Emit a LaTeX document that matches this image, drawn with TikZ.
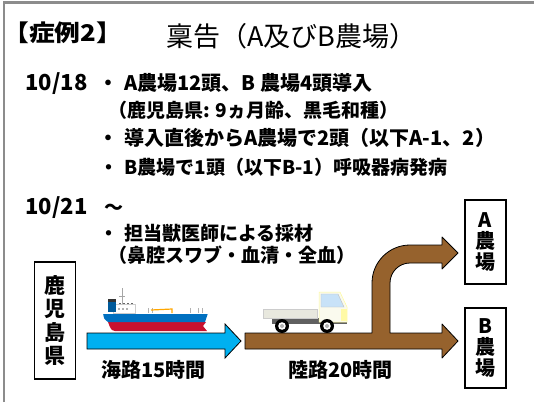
\documentclass[tikz,border=0pt]{standalone}
\usepackage{fontspec}
\setmainfont{Noto Sans CJK JP}[BoldFont={Noto Sans CJK JP Black}]
\begin{document}
\begin{tikzpicture}[x=1pt, y=-1pt, line width=0.8pt,
    txt/.style={anchor=base west, inner sep=0pt, font=\bfseries\fontsize{19}{19}\selectfont},
    place/.style={
                draw,
                fill=white,
                line width=1.4pt,
                align=center,
                inner sep=0pt,
                minimum width=41pt,
                font=\bfseries\fontsize{20}{21}\selectfont
              }]
    % Define colors
    \definecolor{framegray}{RGB}{140, 140, 140}
    \definecolor{seablue}{RGB}{0, 176, 240}
    \definecolor{roadbrown}{RGB}{150, 98, 45}
    \definecolor{hullblue}{RGB}{0, 112, 192}
    \definecolor{hullred}{RGB}{200, 16, 46}
    \definecolor{cabcream}{RGB}{250, 250, 238}
    \definecolor{bedgray}{RGB}{232, 232, 222}
    \definecolor{glassblue}{RGB}{200, 226, 248}

    \useasboundingbox (0,0) rectangle (534,402);
    \draw[framegray, line width=2.5pt] (4,402) -- (4,2.5) -- (534,2.5);

    % heading
    \node[txt, font=\bfseries\fontsize{23}{23}\selectfont] (case) at (3,41) {\scalebox{1.12}[1]{【症例2】}};
    \node[txt, font=\fontsize{27}{27}\selectfont] (title) at (166,46) {稟告（A及びB農場）};

    % 10/18
    \node[txt, font=\bfseries\fontsize{22}{22}\selectfont] (d1) at (25,90) {10/18};
    \node[txt, font=\bfseries\fontsize{20}{20}\selectfont] (l1) at (98,90) {・\hspace{6pt}A農場12頭、B 農場4頭導入};
    \node[txt] (l2) at (108,117) {（鹿児島県: 9ヵ月齢、黒毛和種）};
    \node[txt, font=\bfseries\fontsize{20}{20}\selectfont] (l3) at (98,145) {・\hspace{6pt}導入直後からA農場で2頭（以下A-1、2）};
    \node[txt] (l4) at (99,174) {・\hspace{6pt}B農場で1頭（以下B-1）呼吸器病発病};

    % 10/21
    \node[txt, font=\bfseries\fontsize{22}{22}\selectfont] (d2) at (25,214) {10/21};
    \node[txt] (tilde) at (104,214) {～};
    \node[txt] (l5) at (99,240) {・\hspace{6pt}担当獣医師による採材};
    \node[txt] (l6) at (108,262) {（鼻腔スワブ・血清・全血）};

    % route arrows
    \filldraw[fill=seablue] (87,333) -- (225,333) -- (225,324) -- (241,341)
        -- (225,358) -- (225,349) -- (87,349) -- cycle;
    \filldraw[fill=roadbrown, line join=round] (245,333) -- (372,333) -- (372,283)
        arc[start angle=180, end angle=270, radius=38] -- (442,245) -- (442,237)
        -- (458,253) -- (442,269) -- (442,263) -- (410,263)
        arc[start angle=270, end angle=180, radius=20] -- (390,333) -- (442,333)
        -- (442,324) -- (458,341) -- (442,358) -- (442,349) -- (245,349) -- cycle;

    % ship
    \begin{scope}[shift={(103,288)}]
        \fill[hullred] (5,34) -- (103,34) -- (100,38) -- (104,43) -- (12,43)
            .. controls (8,42) .. (5,34) -- cycle;
        \fill[hullblue] (0,25) -- (105,25) -- (102,34) -- (5,34) .. controls (1,31) .. (0,25) -- cycle;
        \fill[white] (0,25) rectangle (105,26);
        \filldraw[fill=white, draw=gray!40, line width=0.4pt] (10,16) rectangle (32,25);
        \fill[hullblue!80!black] (5,12) rectangle (13,24);
        \fill[black!80] (5,11) rectangle (13,14);
        \draw[gray!70, line width=1pt] (19,0) -- (19,16);
        \draw[gray!70, line width=0.6pt] (16,8) -- (22,8);
        \foreach \wx in {16,20,24,28}
            \fill[gray!80!black] (\wx,14.5) rectangle (\wx+2,16);
        \foreach \wx in {15,19,23}
            \fill[gray!60] (\wx,20) rectangle (\wx+2,21.5);
        \foreach \px in {45,49,87,95,99}
            \draw[gray!60, line width=0.7pt] (\px,20) -- (\px,25);
        \draw[orange!70!yellow, line width=1.2pt] (48,22) -- (69,21) -- (69,25);
    \end{scope}

    % truck
    \begin{scope}[shift={(263,292)}]
        \fill[gray!75!black] (9,26) rectangle (84,32);
        \filldraw[fill=bedgray, draw=gray!40, line width=0.4pt] (0,17) rectangle (54,26);
        \filldraw[fill=cabcream, draw=yellow!40, line width=0.5pt] (56,0) -- (77,0) -- (84,15)
            -- (84,30) -- (56,30) -- cycle;
        \fill[yellow!35] (78,17) rectangle (84,29);
        \filldraw[fill=glassblue, draw=gray!50, line width=0.4pt] (58,2) -- (75,2) -- (81,15) -- (58,15) -- cycle;
        \foreach \wx in {19,64} {
            \fill[black] (\wx,34) circle (7);
            \fill[white] (\wx,34) circle (3.8);
            \fill[gray!60] (\wx,34) circle (2);
        }
    \end{scope}

    % places
    \node[place, minimum height=117pt, font=\bfseries\fontsize{21}{23.5}\selectfont]
        (kagoshima) at (55,320.5) {鹿\\児\\島\\県};
    \node[place, minimum height=84pt] (farmA) at (485.5,242) {A\\農\\場};
    \node[place, minimum height=80pt] (farmB) at (485.5,348) {B\\農\\場};

    % times
    \node[txt, font=\bfseries\fontsize{20}{20}\selectfont] (sea) at (101,377) {海路15時間};
    \node[txt, font=\bfseries\fontsize{20}{20}\selectfont] (land) at (288,377) {陸路20時間};
\end{tikzpicture}
\end{document}
